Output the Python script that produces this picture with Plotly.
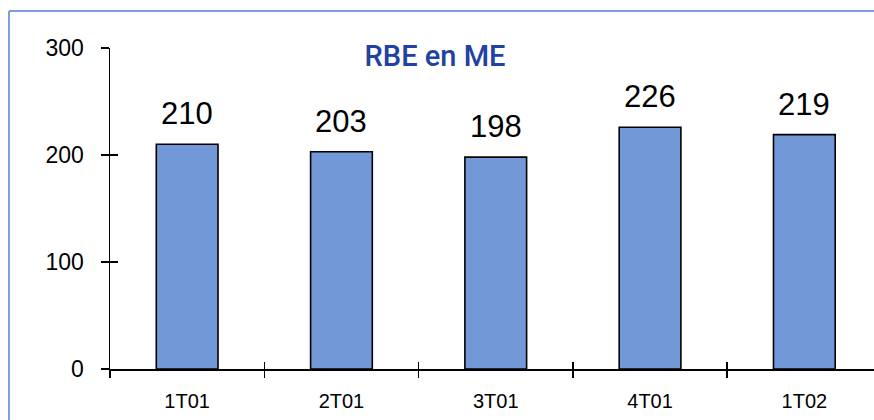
import plotly.graph_objects as go

categories = ["1T01", "2T01", "3T01", "4T01", "1T02"]
values = [210, 203, 198, 226, 219]
y_ticks = [0, 100, 200, 300]
title_text = "RBE en ME"

W, H = 874, 420
ML, MR, MT, MB = 110, 0, 48, 51
PW, PH = W - ML - MR, H - MT - MB

bar_color = "#7298d8"
frame_color = "#7d9fdc"
font_main = "Liberation Sans, Arial, sans-serif"

fig = go.Figure()
fig.add_trace(go.Bar(
    x=categories, y=values, width=0.4,
    marker=dict(color=bar_color, line=dict(color="black", width=1.6)),
    hoverinfo="skip",
))
# invisible twin used only to draw the inner half of the crossing tick marks
fig.add_trace(go.Bar(
    x=categories, y=values, width=0.4, xaxis="x2", yaxis="y2",
    marker=dict(color="rgba(0,0,0,0)", line=dict(width=0)),
    hoverinfo="skip", showlegend=False,
))

xr = [-0.5, -0.5 + PW / 154.3]
common_x = dict(type="category", categoryorder="array", categoryarray=categories,
                range=xr, tickson="boundaries", ticklen=7, tickwidth=1.5,
                tickcolor="black", showgrid=False, zeroline=False, fixedrange=True)
common_y = dict(range=[0, 300], tickvals=y_ticks, ticklen=8, tickwidth=1.5,
                tickcolor="black", showgrid=False, zeroline=False, fixedrange=True)

fig.update_layout(
    width=W, height=H,
    margin=dict(l=ML, r=MR, t=MT, b=MB),
    paper_bgcolor="white", plot_bgcolor="white",
    showlegend=False,
    bargap=0.6,
    xaxis=dict(**common_x, ticks="outside", showline=True, linecolor="black", linewidth=1.5,
               tickfont=dict(family=font_main, size=20, color="black"),
               ticklabelstandoff=13),
    yaxis=dict(**common_y, ticks="outside", showline=True, linecolor="black", linewidth=1.5,
               tickfont=dict(family=font_main, size=23, color="black"),
               ticklabelstandoff=12),
    xaxis2=dict(**common_x, ticks="inside", overlaying="x", showticklabels=False, showline=False),
    yaxis2=dict(**common_y, ticks="inside", overlaying="y", showticklabels=False, showline=False),
    title=dict(text=title_text, x=(435 - ML) / PW, xref="paper", xanchor="center",
               y=1 - 56 / H, yref="container", yanchor="middle",
               font=dict(family="Roboto, Liberation Sans, sans-serif",
                         size=29, color="#2142a2", weight=500)),
)

for c, v in zip(categories, values):
    fig.add_annotation(x=c, y=v, text=str(v), showarrow=False, yanchor="bottom",
                       yshift=11, font=dict(family=font_main, size=31, color="black"))

# light blue frame (top and left edges visible)
fx = (9 - ML) / PW
fy = (H - MB - 11) / PH
fig.add_shape(type="line", xref="paper", yref="paper", x0=fx, x1=1.2, y0=fy, y1=fy,
              line=dict(color=frame_color, width=2))
fig.add_shape(type="line", xref="paper", yref="paper", x0=fx, x1=fx, y0=-0.3, y1=fy,
              line=dict(color=frame_color, width=2))

fig.write_html("out.html", config={"displayModeBar": False, "staticPlot": True},
               post_script="document.body.style.margin='0';document.body.style.overflow='hidden';")
